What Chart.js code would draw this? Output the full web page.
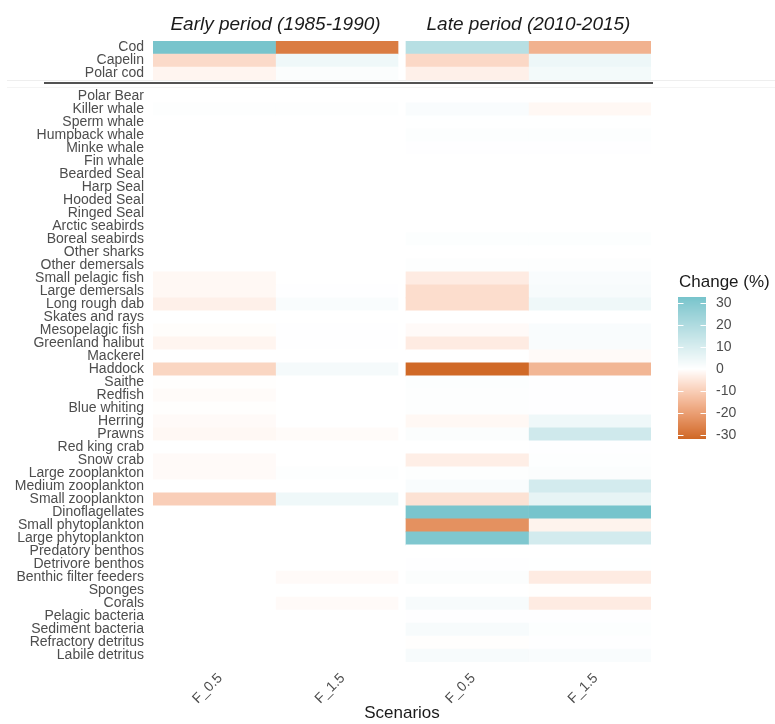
<!DOCTYPE html>
<html>
<head>
<meta charset="utf-8">
<script src="https://cdn.jsdelivr.net/npm/chart.js@4.4.1/dist/chart.umd.min.js"></script>
<style>
  html, body { margin: 0; padding: 0; background: #ffffff; }
  #wrap { position: relative; width: 775px; height: 724px; }
</style>
</head>
<body>
<div id="wrap"><canvas id="heat" width="775" height="724"></canvas></div>
<script>
// ---- data -----------------------------------------------------------------
const periods = ['Early period (1985-1990)', 'Late period (2010-2015)'];
const scenarios = ['F_0.5', 'F_1.5'];

const focalGroups = ['Cod', 'Capelin', 'Polar cod'];
const otherGroups = [
  'Polar Bear', 'Killer whale', 'Sperm whale', 'Humpback whale', 'Minke whale',
  'Fin whale', 'Bearded Seal', 'Harp Seal', 'Hooded Seal', 'Ringed Seal',
  'Arctic seabirds', 'Boreal seabirds', 'Other sharks', 'Other demersals',
  'Small pelagic fish', 'Large demersals', 'Long rough dab', 'Skates and rays',
  'Mesopelagic fish', 'Greenland halibut', 'Mackerel', 'Haddock', 'Saithe',
  'Redfish', 'Blue whiting', 'Herring', 'Prawns', 'Red king crab', 'Snow crab',
  'Large zooplankton', 'Medium zooplankton', 'Small zooplankton',
  'Dinoflagellates', 'Small phytoplankton', 'Large phytoplankton',
  'Predatory benthos', 'Detrivore benthos', 'Benthic filter feeders', 'Sponges',
  'Corals', 'Pelagic bacteria', 'Sediment bacteria', 'Refractory detritus',
  'Labile detritus'
];

// Change (%) of biomass, focal groups
const focalEarlyF05 = [32.5, -7.5, -2];
const focalEarlyF15 = [-27.5, 4, 1];
const focalLateF05  = [18, -8, -3];
const focalLateF15  = [-16, 4.5, 3];

// Change (%) of biomass, remaining functional groups (same order as otherGroups)
const otherEarlyF05 = [0, 0.5, 0, 0, 0, 0, 0, 0, 0, 0, 0, 0, 0, 0,
  -1.5, -1.5, -3, 0, -0.5, -2, 0, -8.5, -0.3, -0.8, -0.3, -1, -1.5, 0, -1,
  -1, 0, -10, 0, 0, 0, 0, 0, 0, 0, 0, 0, 0, 0, 0];
const otherEarlyF15 = [0, 0.5, 0, 0, 0, 0, 0, 0, 0, 0, 0, 0, 0, 0,
  0, 0.3, 1.5, 0, 0.3, 0.3, 0, 2.5, 0, 0, 0, 0, -0.8, 0, 0,
  0.5, 0, 4, 0, 0, 0, 0, 0, -1, 0, -1, 0, 0, 0, 0];
const otherLateF05 = [0, 1.5, 0.2, 0.8, 0.3, 0, 0, 0, 0, 0, 0, 0.8, 0, 0.4,
  -4, -7, -7, 0, -1, -4, 0, -31.4, 0.7, 0.5, 0.5, -1.5, 1, 0, -3.5,
  0.5, 1.5, -6, 32, -23, 31, 0, 0.3, 1, 0, 2, 0.3, 2, -0.3, 2];
const otherLateF15 = [0, -1.5, 0.2, 0.8, 0.3, 0, 0, 0, 0, 0, 0, 0.8, 0, 0.4,
  1.5, 2, 4, 0, 1.5, 1.5, -1, -15, 0.3, 0.3, 0.3, 4, 12, 0.3, 0.5,
  1, 11, 6, 32.7, -2.5, 11, 0, 0.2, -4, -0.3, -4, 0.3, 0.7, 0.3, 1.5];

const legendBreaks = [30, 20, 10, 0, -10, -20, -30];

// ---- colour scale (diverging, interpolated in CIE Lab) ---------------------
const LOW = [205, 99, 29], MID = [255, 255, 255], HIGH = [119, 196, 204];

function lin(c) { c /= 255; return c <= 0.04045 ? c / 12.92 : Math.pow((c + 0.055) / 1.055, 2.4); }
function unlin(c) { c = c <= 0.0031308 ? 12.92 * c : 1.055 * Math.pow(c, 1 / 2.4) - 0.055; return Math.max(0, Math.min(255, Math.round(c * 255))); }
function toLab(rgb) {
  const R = lin(rgb[0]), G = lin(rgb[1]), B = lin(rgb[2]);
  const X = (0.4124 * R + 0.3576 * G + 0.1805 * B) / 0.95047;
  const Y = (0.2126 * R + 0.7152 * G + 0.0722 * B);
  const Z = (0.0193 * R + 0.1192 * G + 0.9505 * B) / 1.08883;
  const f = t => t > 0.008856 ? Math.cbrt(t) : 7.787 * t + 16 / 116;
  const fx = f(X), fy = f(Y), fz = f(Z);
  return [116 * fy - 16, 500 * (fx - fy), 200 * (fy - fz)];
}
function fromLab(lab) {
  const fy = (lab[0] + 16) / 116, fx = fy + lab[1] / 500, fz = fy - lab[2] / 200;
  const g = t => t > 0.206893 ? t * t * t : (t - 16 / 116) / 7.787;
  const X = g(fx) * 0.95047, Y = g(fy), Z = g(fz) * 1.08883;
  const R = 3.2406 * X - 1.5372 * Y - 0.4986 * Z;
  const G = -0.9689 * X + 1.8758 * Y + 0.0415 * Z;
  const B = 0.0557 * X - 0.2040 * Y + 1.0570 * Z;
  return [unlin(R), unlin(G), unlin(B)];
}
const labLow = toLab(LOW), labMid = toLab(MID), labHigh = toLab(HIGH);

const allValues = [].concat(focalEarlyF05, focalEarlyF15, focalLateF05, focalLateF15,
  otherEarlyF05, otherEarlyF15, otherLateF05, otherLateF15);
const vMin = Math.min(...allValues), vMax = Math.max(...allValues);
const vExt = Math.max(Math.abs(vMin), Math.abs(vMax));

function fillFor(v) {
  const t = v / (2 * vExt) + 0.5;
  let a, b, u;
  if (t < 0.5) { a = labLow; b = labMid; u = t / 0.5; }
  else { a = labMid; b = labHigh; u = (t - 0.5) / 0.5; }
  const lab = [0, 1, 2].map(i => a[i] + (b[i] - a[i]) * u);
  const c = fromLab(lab);
  return `rgb(${c[0]},${c[1]},${c[2]})`;
}

// ---- row / column placement ------------------------------------------------
const blockGap = 0.75;                       // extra space between the two row blocks
const rowPos = [];
focalGroups.forEach((_, i) => rowPos.push(i));
otherGroups.forEach((_, j) => rowPos.push(focalGroups.length + blockGap + j));
const rowLabels = focalGroups.concat(otherGroups);

const panelGap = 0.065;                      // gap between the two period panels
const colStart = [0, 1, 2 + panelGap, 3 + panelGap];
const columns = [
  focalEarlyF05.concat(otherEarlyF05),
  focalEarlyF15.concat(otherEarlyF15),
  focalLateF05.concat(otherLateF05),
  focalLateF15.concat(otherLateF15)
];

const datasets = columns.map((vals, c) => ({
  label: periods[c >> 1] + ' ' + scenarios[c % 2],
  data: vals.map((v, k) => ({ x: [colStart[c], colStart[c] + 1], y: rowPos[k], v })),
  backgroundColor: ctx => fillFor(vals[ctx.dataIndex]),
  borderWidth: 0,
  borderSkipped: false,
  grouped: false,
  barPercentage: 1,
  categoryPercentage: 1
}));

const FONT = '"Liberation Sans", Arial, Helvetica, sans-serif';

// faint frame lines of the composite figure, behind the tiles
const frameLines = {
  id: 'frameLines',
  beforeDatasetsDraw(chart) {
    const ctx = chart.ctx;
    ctx.save();
    ctx.strokeStyle = '#eeeeee';
    ctx.lineWidth = 1;
    ctx.beginPath(); ctx.moveTo(7, 80.5); ctx.lineTo(775, 80.5); ctx.stroke();
    ctx.strokeStyle = '#f4f4f4';
    ctx.beginPath(); ctx.moveTo(7, 87.5); ctx.lineTo(775, 87.5); ctx.stroke();
    ctx.restore();
  }
};

// facet strips, block separator and colour-bar legend
const decorations = {
  id: 'decorations',
  afterDraw(chart) {
    const { ctx, scales: { x, y }, chartArea } = chart;
    ctx.save();

    // separator between focal groups and the rest
    const sepY = y.getPixelForValue(focalGroups.length - 0.5) + 3;
    ctx.strokeStyle = '#1a1a1a';
    ctx.lineWidth = 1.6;
    ctx.beginPath(); ctx.moveTo(44, sepY); ctx.lineTo(chartArea.right + 2, sepY); ctx.stroke();

    // period titles
    ctx.fillStyle = '#1a1a1a';
    ctx.font = `italic 19px ${FONT}`;
    ctx.textAlign = 'center';
    ctx.textBaseline = 'middle';
    periods.forEach((p, i) => {
      const cx = (x.getPixelForValue(colStart[2 * i]) + x.getPixelForValue(colStart[2 * i + 1] + 1)) / 2;
      ctx.fillText(p, cx, 25);
    });

    // colour bar
    const barX = 678, barW = 28, pxPerUnit = 2.2, barTop = 297;
    const yOf = v => barTop + (vMax - v) * pxPerUnit;
    const barBottom = yOf(vMin);
    for (let py = barTop; py < barBottom; py += 1) {
      const v = vMax - (py - barTop + 0.5) / pxPerUnit;
      ctx.fillStyle = fillFor(v);
      ctx.fillRect(barX, py, barW, 1);
    }
    ctx.strokeStyle = '#ffffff';
    ctx.lineWidth = 1;
    ctx.fillStyle = '#4d4d4d';
    ctx.font = `14px ${FONT}`;
    ctx.textAlign = 'left';
    ctx.textBaseline = 'middle';
    legendBreaks.forEach(b => {
      const py = Math.round(yOf(b)) + 0.5;
      ctx.beginPath(); ctx.moveTo(barX, py); ctx.lineTo(barX + 5.5, py); ctx.stroke();
      ctx.beginPath(); ctx.moveTo(barX + barW - 5.5, py); ctx.lineTo(barX + barW, py); ctx.stroke();
      ctx.fillText(String(b), 716, py);
    });
    ctx.fillStyle = '#1a1a1a';
    ctx.font = `17px ${FONT}`;
    ctx.fillText('Change (%)', 679, 282);

    ctx.restore();
  }
};

new Chart(document.getElementById('heat'), {
  type: 'bar',
  data: { datasets },
  options: {
    indexAxis: 'y',
    responsive: false,
    animation: false,
    events: [],
    layout: { padding: { top: 41, right: 124, left: 0, bottom: 0 } },
    plugins: { legend: { display: false }, tooltip: { enabled: false } },
    scales: {
      y: {
        type: 'linear',
        reverse: true,
        offset: false,
        min: -0.5,
        max: rowPos[rowPos.length - 1] + 0.5,
        grid: { display: false, drawTicks: false, offset: false },
        border: { display: false },
        afterBuildTicks: s => { s.ticks = rowPos.map(v => ({ value: v })); },
        afterFit: s => { s.width = 153; s.paddingTop = 0; s.paddingBottom = 0; },
        ticks: {
          autoSkip: false,
          padding: 9,
          color: '#4d4d4d',
          font: { family: FONT, size: 14 },
          callback: (v, i) => rowLabels[i]
        }
      },
      x: {
        type: 'linear',
        offset: false,
        min: 0,
        max: colStart[3] + 1,
        grid: { display: false, drawTicks: false },
        border: { display: false },
        afterBuildTicks: s => { s.ticks = colStart.map(c => ({ value: c + 0.5 })); },
        afterFit: s => { s.height = 62; s.paddingLeft = 0; s.paddingRight = 0; },
        ticks: {
          autoSkip: false,
          minRotation: 45,
          maxRotation: 45,
          padding: 8,
          labelOffset: 6,
          color: '#4d4d4d',
          font: { family: FONT, size: 14 },
          callback: (v, i) => scenarios[i % 2]
        },
        title: {
          display: true,
          text: 'Scenarios',
          color: '#1a1a1a',
          font: { family: FONT, size: 17 },
          padding: { top: 0, bottom: 0 }
        }
      }
    }
  },
  plugins: [frameLines, decorations]
});
</script>
</body>
</html>
